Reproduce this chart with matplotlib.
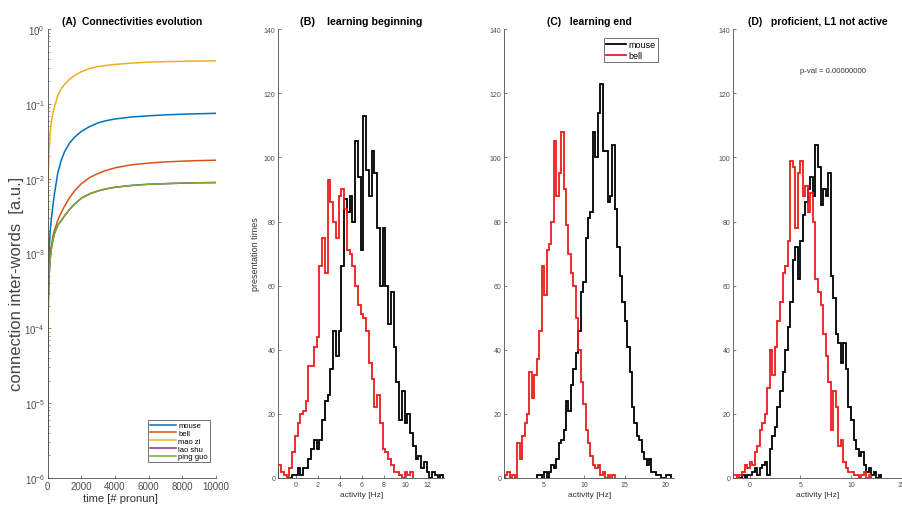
import numpy as np
import matplotlib.pyplot as plt

plt.rcParams['font.family'] = ['Liberation Sans', 'DejaVu Sans']

# (A) connectivity curves, values read at sample times
t_steps = [0, 5, 10, 20, 40, 70, 100, 150, 200, 300, 400, 600, 800, 1000, 1300, 1600,
           2000, 2500, 3000, 3500, 4000, 5000, 6000, 7000, 8000, 9000, 10000]
mouse_w = [2e-6, 6e-5, 1.2e-4, 2.5e-4, 5e-4, 9e-4, 1.3e-3, 2e-3, 2.7e-3, 4.2e-3, 6.3e-3, 1.2e-2, 1.75e-2, 2.3e-2, 3.0e-2, 3.6e-2,
           4.3e-2, 5.0e-2, 5.6e-2, 6.0e-2, 6.3e-2, 6.7e-2, 6.95e-2, 7.15e-2, 7.3e-2, 7.4e-2, 7.5e-2]
bell_w = [2e-6, 4e-5, 8e-5, 1.6e-4, 3.2e-4, 5e-4, 6.5e-4, 9.5e-4, 1.2e-3, 1.65e-3, 2.05e-3, 2.8e-3, 3.5e-3, 4.3e-3, 5.6e-3, 6.9e-3,
          8.6e-3, 1.04e-2, 1.18e-2, 1.3e-2, 1.4e-2, 1.54e-2, 1.62e-2, 1.68e-2, 1.72e-2, 1.75e-2, 1.77e-2]
maozi_w = [2e-6, 1.5e-3, 3e-3, 6e-3, 1.2e-2, 2.1e-2, 2.9e-2, 4.2e-2, 5.3e-2, 7.4e-2, 9.2e-2, 0.13, 0.16, 0.183, 0.215, 0.24,
           0.27, 0.298, 0.316, 0.328, 0.338, 0.352, 0.362, 0.368, 0.372, 0.375, 0.377]
laoshu_w = [2e-6, 3e-5, 6e-5, 1.2e-4, 2.4e-4, 4.2e-4, 6e-4, 8.5e-4, 1.1e-3, 1.5e-3, 1.85e-3, 2.4e-3, 2.75e-3, 3.2e-3, 3.9e-3, 4.6e-3,
            5.5e-3, 6.3e-3, 6.9e-3, 7.35e-3, 7.7e-3, 8.15e-3, 8.45e-3, 8.6e-3, 8.75e-3, 8.85e-3, 8.9e-3]
pingguo_w = [2e-6, 3e-5, 6e-5, 1.2e-4, 2.4e-4, 4.2e-4, 6e-4, 8.5e-4, 1.1e-3, 1.5e-3, 1.85e-3, 2.4e-3, 2.75e-3, 3.2e-3, 3.9e-3, 4.6e-3,
             5.5e-3, 6.3e-3, 6.9e-3, 7.35e-3, 7.7e-3, 8.15e-3, 8.45e-3, 8.6e-3, 8.75e-3, 8.85e-3, 8.9e-3]
words = ['mouse', 'bell', 'mao zi', 'lao shu', 'ping guo']
word_colors = ['#0072BD', '#D95319', '#EDB120', '#7E2F8E', '#77AC30']

# (B) learning beginning, 0.25 Hz bins
b_mouse_start = -0.6
b_mouse = [0, 1, 1, 3, 1, 3, 3, 6, 9, 12, 9, 12, 18, 24, 26, 34, 46, 38, 46, 66,
           87, 83, 88, 80, 105, 94, 71, 113, 96, 88, 102, 95, 78, 60, 78, 60, 48, 58, 41, 30,
           18, 27, 17, 20, 14, 10, 6, 7, 3, 5, 2, 0, 2, 1, 0, 1]
b_bell_start = -1.6
b_bell = [4, 2, 1, 0, 3, 8, 13, 17, 20, 21, 24, 35, 35, 41, 44, 66, 75, 64, 93, 86,
          80, 75, 88, 90, 84, 71, 70, 66, 60, 54, 51, 50, 46, 36, 31, 22, 26, 17, 9, 8,
          6, 4, 2, 2, 1, 0, 2, 1, 2]
b_width = 0.25

# (C) learning end, 0.3 Hz bins
c_mouse_start = 4.2
c_mouse = [1, 1, 0, 2, 0, 2, 4, 3, 6, 11, 12, 15, 24, 21, 29, 34, 39, 46, 58, 61,
           75, 81, 83, 108, 100, 114, 123, 102, 102, 86, 88, 104, 84, 72, 63, 55, 49, 41, 33, 22,
           17, 13, 12, 8, 6, 4, 6, 2, 2, 1, 1, 0, 0, 1, 1]
c_bell_start = 0.3
c_bell = [1, 2, 0, 1, 0, 11, 6, 13, 17, 20, 33, 25, 32, 37, 46, 66, 57, 71, 73, 80,
          105, 88, 95, 108, 90, 79, 70, 64, 60, 50, 40, 30, 23, 15, 11, 7, 4, 3, 4, 1,
          2, 0, 1, 0, 1]
c_width = 0.3

# (D) proficient, L1 not active, 0.25 Hz bins
d_mouse_start = -1.0
d_mouse = [0, 1, 0, 1, 1, 2, 3, 1, 3, 4, 5, 1, 9, 13, 16, 22, 27, 33, 40, 47,
           55, 68, 72, 62, 74, 82, 86, 90, 94, 88, 104, 97, 85, 90, 88, 95, 63, 56, 45, 42,
           36, 42, 34, 22, 18, 12, 9, 7, 8, 4, 2, 3, 1, 2, 0, 1]
d_bell_start = -1.75
d_bell = [1, 1, 0, 1, 2, 4, 3, 5, 4, 8, 10, 15, 17, 20, 28, 40, 32, 41, 49, 55,
          64, 66, 74, 99, 97, 78, 95, 99, 88, 91, 83, 89, 80, 62, 58, 54, 45, 38, 30, 15,
          27, 22, 10, 12, 5, 3, 2, 2, 1, 1, 0, 1, 2, 0, 1]
d_width = 0.25
p_text = 'p-val = 0.00000000'

gray = '#4d4d4d'
red = '#ec1c1c'


def style(ax, fs):
    for s in ['top', 'right']:
        ax.spines[s].set_visible(False)
    for s in ['left', 'bottom']:
        ax.spines[s].set_color(gray)
        ax.spines[s].set_linewidth(0.6)
    ax.tick_params(direction='in', labelsize=fs, colors=gray, length=2.5, width=0.5, pad=2)
    ax.tick_params(which='minor', direction='in', length=1.5, width=0.4, colors=gray)


def hist_panel(ax, black, bstart, red_vals, rstart, width, xlim, xticks):
    be = bstart + width * np.arange(len(black) + 1)
    re = rstart + width * np.arange(len(red_vals) + 1)
    ax.stairs(black, be, color='black', lw=1.3, baseline=0, label='mouse')
    ax.stairs(red_vals, re, color=red, lw=1.3, baseline=0, label='bell')
    ax.set_xlim(*xlim)
    ax.set_ylim(0, 140)
    ax.set_xticks(xticks)
    ax.set_yticks(range(0, 141, 20))
    style(ax, 5)
    ax.set_xlabel('activity [Hz]', fontsize=6, color='#333333', labelpad=2)


fig = plt.figure(figsize=(9.02, 5.06), dpi=100)
bot, hgt = 0.0534, 0.887

# panel A
axA = fig.add_axes([0.0529, bot, 0.1866, hgt])
series = [mouse_w, bell_w, maozi_w, laoshu_w, pingguo_w]
for name, vals, col in zip(words, series, word_colors):
    axA.plot(t_steps, vals, color=col, lw=1.1, label=name)
axA.set_yscale('log')
axA.set_ylim(1e-6, 1)
axA.set_xlim(0, 10000)
axA.set_xticks(range(0, 10001, 2000))
style(axA, 7)
axA.set_ylabel('connection inter-words  [a.u.]', fontsize=12, color='#444444')
axA.yaxis.set_label_coords(-0.14, 0.434)
axA.set_xlabel('time [# pronun]', fontsize=8, color='#333333')
axA.xaxis.set_label_coords(0.435, -0.033)
axA.set_title('(A)  Connectivities evolution', fontsize=7.5, fontweight='bold', pad=4)
legA = axA.legend(loc='lower right', bbox_to_anchor=(0.964, 0.035), borderaxespad=0,
                  fontsize=5.5, frameon=True, fancybox=False, edgecolor='#333333',
                  handlelength=3.4, labelspacing=0.05, borderpad=0.25, handletextpad=0.3)
legA.get_frame().set_linewidth(0.6)

# panel B
axB = fig.add_axes([0.3085, bot, 0.184, hgt])
hist_panel(axB, b_mouse, b_mouse_start, b_bell, b_bell_start, b_width, (-1.6, 13.5), range(0, 13, 2))
axB.set_ylabel('presentation times', fontsize=6.5, color='#333333', labelpad=3)
axB.set_title('(B)    learning beginning', fontsize=7.7, fontweight='bold', pad=4)

# panel C
axC = fig.add_axes([0.559, bot, 0.1885, hgt])
hist_panel(axC, c_mouse, c_mouse_start, c_bell, c_bell_start, c_width, (0.2, 21.1), range(5, 21, 5))
axC.set_title('(C)   learning end', fontsize=7.5, fontweight='bold', pad=4)
legC = axC.legend(loc='upper right', bbox_to_anchor=(0.904, 0.981), borderaxespad=0,
                  fontsize=6.5, frameon=True, fancybox=False, edgecolor='#333333',
                  handlelength=2.2, labelspacing=0.15, borderpad=0.3, handletextpad=0.2)
legC.get_frame().set_linewidth(0.6)

# panel D
axD = fig.add_axes([0.8126, bot, 0.1885, hgt])
hist_panel(axD, d_mouse, d_mouse_start, d_bell, d_bell_start, d_width, (-1.64, 15.13), range(0, 16, 5))
axD.set_title('(D)   proficient, L1 not active', fontsize=7.5, fontweight='bold', pad=4)
axD.text(8.2, 127, p_text, fontsize=5.6, ha='center', va='center', color='#333333')

fig.savefig('out.png', dpi=100)
